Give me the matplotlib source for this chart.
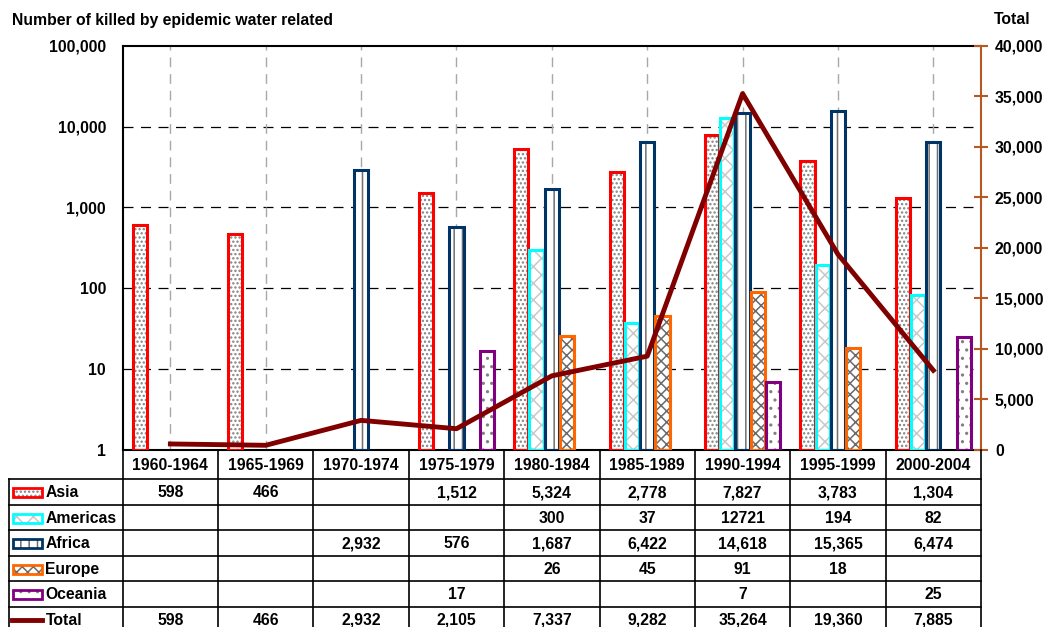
import matplotlib
matplotlib.use('Agg')
import matplotlib.pyplot as plt
from matplotlib.patches import Rectangle
from matplotlib.lines import Line2D
import numpy as np

plt.rcParams['font.family'] = ['Liberation Sans', 'DejaVu Sans']
plt.rcParams['font.weight'] = 'bold'
plt.rcParams['hatch.linewidth'] = 1.1

periods = ['1960-1964', '1965-1969', '1970-1974', '1975-1979', '1980-1984',
           '1985-1989', '1990-1994', '1995-1999', '2000-2004']
asia = [598, 466, None, 1512, 5324, 2778, 7827, 3783, 1304]
americas = [None, None, None, None, 300, 37, 12721, 194, 82]
africa = [None, None, 2932, 576, 1687, 6422, 14618, 15365, 6474]
europe = [None, None, None, None, 26, 45, 91, 18, None]
oceania = [None, None, None, 17, None, None, 7, None, 25]
total = [598, 466, 2932, 2105, 7337, 9282, 35264, 19360, 7885]

regions = ['Asia', 'Americas', 'Africa', 'Europe', 'Oceania']
series = [asia, americas, africa, europe, oceania]
edge_colors = ['#FF0000', '#00FFFF', '#003366', '#FF6600', '#800080']
hatch_colors = ['#808080', '#C8C8C8', '#707070', '#6A6A6A', '#808080']
hatches = ['....', 'xx', '||', 'xxx', '..']
# Americas row is shown without thousands separator
row_fmt = ['{:,}', '{:d}', '{:,}', '{:,}', '{:,}']

FS = 11.3
W, H = 1045, 627
L, R, T, B = 122.7, 981.0, 45.7, 450.0
cw = (R - L) / len(periods)

fig = plt.figure(figsize=(W / 100, H / 100), dpi=100)
ax = fig.add_axes([L / W, 1 - B / H, (R - L) / W, (B - T) / H])
ax2 = ax.twinx()

x = np.arange(len(periods))
bw = 0.16
for j, (vals, ec, hc, ht) in enumerate(zip(series, edge_colors, hatch_colors, hatches)):
    v = np.array([np.nan if a is None else a for a in vals], dtype=float)
    xs = x + (j - 2) * bw
    ax.bar(xs, v - 1, bottom=1, width=bw - 0.01, color='white', edgecolor=hc,
           hatch=ht, linewidth=0, zorder=2)
    ax.bar(xs, v - 1, bottom=1, width=bw - 0.01, fill=False, edgecolor=ec,
           linewidth=2.2, zorder=3)

ax.set_yscale('log')
ax.set_ylim(1, 100000)
ax.set_xlim(-0.5, len(periods) - 0.5)
ax.set_yticks([1, 10, 100, 1000, 10000, 100000])
ax.set_yticklabels(['1', '10', '100', '1,000', '10,000', '100,000'])
ax.yaxis.set_minor_locator(matplotlib.ticker.NullLocator())
ax.tick_params(axis='y', length=0, labelsize=FS, pad=12)
ax.set_xticks(x)
ax.tick_params(axis='x', length=0, labelbottom=False)
for yv in [10, 100, 1000, 10000]:
    ax.axhline(yv, color='black', lw=0.9, ls=(0, (8, 6)), zorder=1)
for xv in x:
    ax.axvline(xv, color='#A8A8A8', lw=1.0, ls=(0, (7, 5)), zorder=1)
for s in ['left', 'top', 'bottom']:
    ax.spines[s].set_linewidth(1.5)
ax.spines['right'].set_visible(False)

ax2.plot(x, total, color='#800000', lw=3.5, zorder=5)
ax2.set_ylim(0, 40000)
ax2.set_yticks(np.arange(0, 40001, 5000))
ax2.set_yticklabels([f'{t:,}' for t in range(0, 40001, 5000)])
rc = '#B8571F'
ax2.spines['right'].set_color(rc)
ax2.spines['right'].set_linewidth(1.5)
for s in ['left', 'top', 'bottom']:
    ax2.spines[s].set_visible(False)
ax2.tick_params(axis='y', direction='inout', length=10, width=1.5, color=rc,
                labelsize=FS, pad=5)

fig.text(12 / W, 1 - 20 / H, 'Number of killed by epidemic water related',
         fontsize=FS, fontweight='bold', va='center', ha='left')
fig.text(994 / W, 1 - 20 / H, 'Total', fontsize=FS, fontweight='bold',
         va='center', ha='left')

# data table below the plot
tab = fig.add_axes([0, 0, 1, 1], zorder=10)
tab.set_xlim(0, W)
tab.set_ylim(H, 0)
tab.axis('off')
tab.patch.set_alpha(0)

row_tops = [450, 479, 504.5, 530, 555.5, 581, 606.5, 632]
xl = 9
lw_t = 1.2
for i in range(len(periods) + 1):
    xp = L + i * cw
    tab.add_line(Line2D([xp, xp], [450, H], color='black', lw=lw_t))
tab.add_line(Line2D([xl, xl], [479, H], color='black', lw=lw_t))
for yp in row_tops[1:-1]:
    tab.add_line(Line2D([xl, R], [yp, yp], color='black', lw=lw_t))

for i, p in enumerate(periods):
    tab.text(L + (i + 0.5) * cw, (row_tops[0] + row_tops[1]) / 2 + 1, p,
             ha='center', va='center', fontsize=FS, fontweight='bold')

row_labels = regions + ['Total']
row_vals = series + [total]
fmts = row_fmt + ['{:,}']
for r, (lab, vals, fm) in enumerate(zip(row_labels, row_vals, fmts)):
    yc = (row_tops[r + 1] + row_tops[r + 2]) / 2 + 1
    for i, v in enumerate(vals):
        if v is not None:
            tab.text(L + (i + 0.5) * cw, yc, fm.format(v), ha='center',
                     va='center', fontsize=FS, fontweight='bold')
    tab.text(45.5, yc, lab, ha='left', va='center', fontsize=FS,
             fontweight='bold')
    if r < len(regions):
        tab.add_patch(Rectangle((12.5, yc - 4.5), 29, 9, facecolor='white',
                                edgecolor=hatch_colors[r], hatch=hatches[r],
                                linewidth=0))
        tab.add_patch(Rectangle((12.5, yc - 4.5), 29, 9, fill=False,
                                edgecolor=edge_colors[r], linewidth=2))
    else:
        tab.add_line(Line2D([12, 42], [yc, yc], color='#800000', lw=3.5))

fig.savefig('out.png', dpi=100, facecolor='white')
